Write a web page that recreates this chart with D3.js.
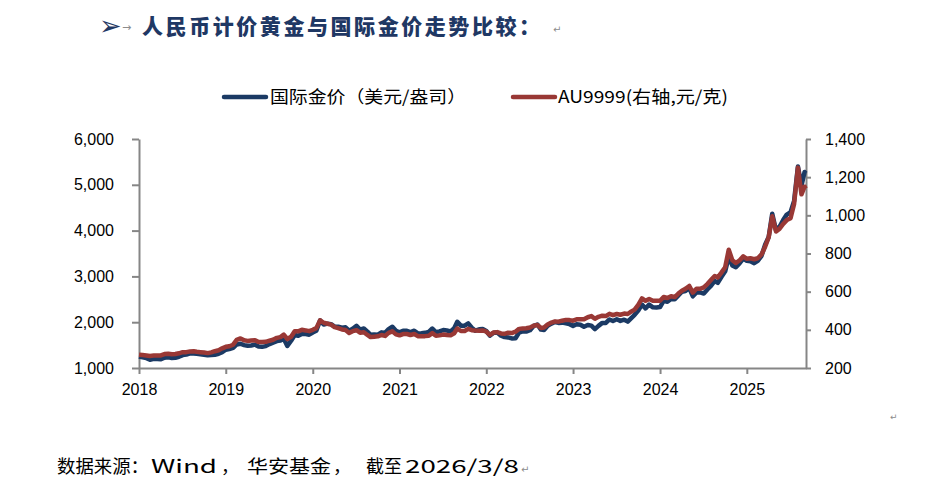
<!DOCTYPE html>
<html>
<head>
<meta charset="utf-8">
<script src="https://cdn.jsdelivr.net/npm/d3@7"></script>
<style>
  body { margin: 0; background: #fff; }
  svg { display: block; }
  .axis path, .axis line { stroke: #868686; stroke-width: 2; }
  .axis text { font-family: "Liberation Sans", Arial, sans-serif; font-size: 16px; fill: #000; }
</style>
</head>
<body>
<div id="chart"></div>
<script>
//Tick labels on the x axis (Excel put one every 12 months starting July 2018)
var yearTicks = ["2018", "2019", "2020", "2021", "2022", "2023", "2024", "2025"];

//International gold, USD per ounce. Two readings a month (1st and 16th), Jul 2018 -> Mar 2026
var goldUsd = [
  1250,1232,1215,1180,1200,1195,1190,1226,1232,1220,1222,1245,
  1282,1292,1320,1318,1312,1302,1290,1276,1282,1290,1310,1345,1400,1415,1440,1515,1530,1500,1485,1492,1510,1468,1462,1478,
  1522,1555,1588,1600,1640,1480,1595,1720,1705,1745,1740,1728,1775,1812,2040,1950,1968,1958,1905,1902,1880,1888,1815,1858,
  1920,1838,1862,1795,1725,1730,1728,1778,1770,1848,1900,1812,1778,1815,1812,1785,1815,1756,1760,1768,1790,1862,1782,1800,
  1828,1818,1800,1870,2010,1925,1925,1975,1880,1815,1845,1850,1808,1708,1770,1775,1705,1675,1668,1645,1650,1775,1800,1795,
  1825,1918,1950,1838,1828,1922,1970,2005,1985,1990,1975,1958,1920,1955,1945,1900,1940,1925,1848,1920,1985,1985,2060,2025,
  2063,2028,2055,2013,2085,2160,2260,2385,2300,2385,2325,2320,2330,2465,2445,2505,2500,2585,2665,2680,2745,2565,2650,2650,
  2625,2715,2800,2900,2860,2985,3110,3430,3240,3200,3290,3390,3340,3330,3290,3340,3450,3690,3860,4370,4000,4090,4230,4350,
  4400,4650,5400,4980,5280,5250
];

//AU9999 on the Shanghai Gold Exchange, CNY per gram (right axis), same dates
var au9999 = [
  270,268,266,263,265,265,266,273,275,272,273,277,
  283,283,287,288,285,283,281,278,282,288,293,303,311,314,322,347,355,345,342,344,346,336,336,337,
  343,348,358,362,375,352,364,393,392,400,397,393,400,409,450,437,432,427,414,409,402,399,384,393,
  398,385,387,373,362,364,366,373,368,384,392,376,371,378,378,373,378,367,366,367,369,383,369,371,
  375,373,371,382,407,394,394,405,398,396,395,397,391,373,386,388,381,379,385,383,390,405,407,408,
  412,421,425,410,412,428,438,444,443,448,452,451,448,455,455,455,466,472,458,468,474,472,484,477,
  483,479,485,483,495,506,532,565,552,562,552,552,552,572,567,576,572,590,605,615,630,595,615,615,
  622,640,662,682,675,700,728,820,765,750,765,785,772,775,770,775,795,835,885,995,915,930,955,975,
  985,1060,1250,1110,1150,1140
];

var leftTicks = [1000, 2000, 3000, 4000, 5000, 6000];
var rightTicks = [200, 400, 600, 800, 1000, 1200, 1400];

//Build the date for every reading: 1st and 16th of each month, then the last two in March 2026
var dates = [];
d3.timeMonth.range(new Date(2018, 6, 1), new Date(2026, 2, 1)).forEach(function(m) {
    dates.push(m);
    dates.push(new Date(m.getFullYear(), m.getMonth(), 16));
});
dates.push(new Date(2026, 2, 1));
dates.push(new Date(2026, 2, 6));

var width = 939, height = 485;
// (window.top is taken, so the plot edges get their own names)
var plotLeft = 139, plotRight = 806, plotTop = 139, plotBottom = 368;

var svg = d3.select("#chart").append("svg")
    .attr("width", width)
    .attr("height", height);

var x = d3.scaleTime()
    .domain([new Date(2018, 6, 1), new Date(2026, 2, 7)])
    .range([plotLeft, plotRight]);

var yLeft = d3.scaleLinear().domain([1000, 6000]).range([plotBottom, plotTop]);
var yRight = d3.scaleLinear().domain([200, 1400]).range([plotBottom, plotTop]);

// Title line, the way it sits in the word document
var title = svg.append("g");
title.append("text")
    .attr("x", 99).attr("y", 35)
    .style("font-family", "'DejaVu Sans', sans-serif")
    .style("font-size", "27px")
    .style("fill", "#1f3864")
    .text("➢");
title.append("text")
    .attr("x", 122).attr("y", 31)
    .style("font-family", "'DejaVu Sans', sans-serif")
    .style("font-size", "11px")
    .style("fill", "#8c8c8c")
    .text("→");
title.append("text")
    .attr("x", 142).attr("y", 34)
    .attr("textLength", 398)
    .attr("lengthAdjust", "spacing")
    .style("font-family", "'Noto Sans CJK SC', sans-serif")
    .style("font-weight", "900")
    .style("font-size", "21px")
    .style("fill", "#1f3864")
    .text("人民币计价黄金与国际金价走势比较：");
title.append("text")
    .attr("x", 553).attr("y", 33)
    .style("font-family", "'DejaVu Sans', sans-serif")
    .style("font-size", "10px")
    .style("fill", "#8c8c8c")
    .text("↵");

// Legend
var legend = svg.append("g")
    .style("font-family", "'Noto Sans CJK SC', sans-serif")
    .style("font-size", "17px");

legend.append("line")
    .attr("x1", 224).attr("x2", 266).attr("y1", 97).attr("y2", 97)
    .style("stroke", "#1b3a64").style("stroke-width", 4.5).style("stroke-linecap", "round");
legend.append("text")
    .attr("x", 270).attr("y", 103)
    .attr("textLength", 196)
    .attr("lengthAdjust", "spacingAndGlyphs")
    .text("国际金价（美元/盎司）");

legend.append("line")
    .attr("x1", 513).attr("x2", 555).attr("y1", 97).attr("y2", 97)
    .style("stroke", "#993835").style("stroke-width", 4.5).style("stroke-linecap", "round");
legend.append("text")
    .attr("x", 558).attr("y", 103)
    .attr("textLength", 170)
    .attr("lengthAdjust", "spacingAndGlyphs")
    .text("AU9999(右轴,元/克)");

// Axes
svg.append("g")
    .attr("class", "axis")
    .attr("transform", "translate(" + plotLeft + ",0)")
    .call(d3.axisLeft(yLeft).tickValues(leftTicks).tickSize(7).tickSizeOuter(0).tickPadding(18)
        .tickFormat(d3.format(",")));

svg.append("g")
    .attr("class", "axis")
    .attr("transform", "translate(" + plotRight + ",0)")
    .call(d3.axisRight(yRight).tickValues(rightTicks).tickSize(5).tickSizeOuter(0).tickPadding(14)
        .tickFormat(d3.format(",")));

var xTickDates = yearTicks.map(function(y) { return new Date(+y, 6, 1); });
svg.append("g")
    .attr("class", "axis")
    .attr("transform", "translate(0," + plotBottom + ")")
    .call(d3.axisBottom(x).tickValues(xTickDates).tickSize(6).tickSizeOuter(0).tickPadding(10)
        .tickFormat(d3.timeFormat("%Y")));

// The two series. Blue goes first so the red one sits on top.
var blueLine = d3.line()
    .x(function(d, i) { return x(dates[i]); })
    .y(function(d) { return yLeft(d); });

var redLine = d3.line()
    .x(function(d, i) { return x(dates[i]); })
    .y(function(d) { return yRight(d); });

svg.append("path")
    .datum(goldUsd)
    .attr("d", blueLine)
    .style("fill", "none")
    .style("stroke", "#1b3a64")
    .style("stroke-width", 4.5)
    .style("stroke-linejoin", "round");

svg.append("path")
    .datum(au9999)
    .attr("d", redLine)
    .style("fill", "none")
    .style("stroke", "#993835")
    .style("stroke-width", 4.5)
    .style("stroke-linejoin", "round");

// stray paragraph mark at the right of the chart box
svg.append("text")
    .attr("x", 890).attr("y", 420)
    .style("font-family", "'DejaVu Sans', sans-serif")
    .style("font-size", "9px")
    .style("fill", "#8c8c8c")
    .text("↵");

// Source note, laid out piece by piece to match the document spacing
var note = svg.append("g")
    .style("font-family", "'Noto Sans CJK SC', sans-serif")
    .style("font-size", "18px")
    .style("fill", "#000");

var noteParts = [
    { t: "数据来源：", x: 57, w: 92 },
    { t: "Wind", x: 151, w: 66 },
    { t: "，", x: 221, w: 0 },
    { t: "华安基金", x: 247, w: 84 },
    { t: "，", x: 333, w: 0 },
    { t: "截至", x: 366, w: 36 },
    { t: "2026/3/8", x: 405, w: 114 }
];
noteParts.forEach(function(p) {
    var t = note.append("text").attr("x", p.x).attr("y", 473).text(p.t);
    if (p.w) t.attr("textLength", p.w).attr("lengthAdjust", "spacingAndGlyphs");
});
note.append("text")
    .attr("x", 521).attr("y", 473)
    .style("font-family", "'DejaVu Sans', sans-serif")
    .style("font-size", "10px")
    .style("fill", "#8c8c8c")
    .text("↵");
</script>
</body>
</html>
